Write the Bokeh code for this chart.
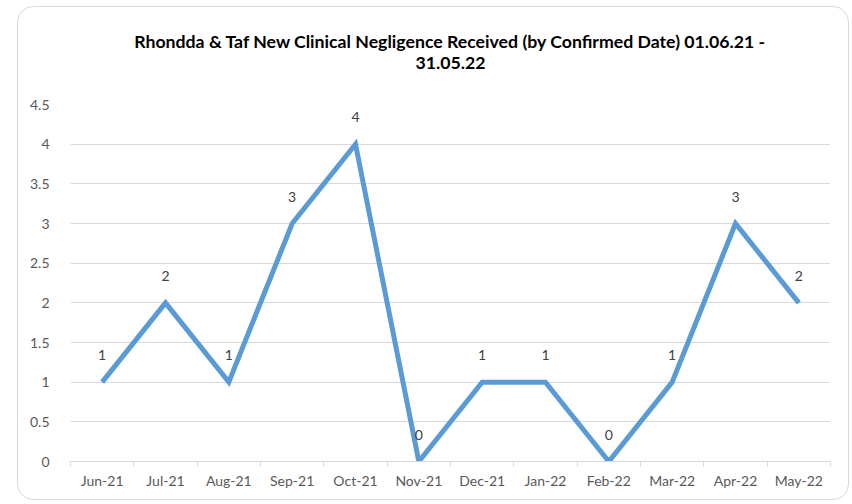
from bokeh.plotting import figure
from bokeh.layouts import column
from bokeh.models import Range1d, FixedTicker, CustomJSTickFormatter, Title, ColumnDataSource
from bokeh.core.properties import value
from bokeh.embed import file_html
from bokeh.resources import INLINE

months = ["Jun-21", "Jul-21", "Aug-21", "Sep-21", "Oct-21", "Nov-21",
          "Dec-21", "Jan-22", "Feb-22", "Mar-22", "Apr-22", "May-22"]
counts = [1, 2, 1, 3, 4, 0, 1, 1, 0, 1, 3, 2]
y_ticks = [0, 0.5, 1, 1.5, 2, 2.5, 3, 3.5, 4, 4.5]
title_line1 = "Rhondda & Taf New Clinical Negligence Received (by Confirmed Date) 01.06.21 -"
title_line2 = "31.05.22"

FONT = "Lato"
xs = [i + 0.5 for i in range(len(months))]
src = ColumnDataSource(dict(x=xs, y=counts, lab=[str(c) for c in counts]))

p = figure(output_backend="svg", toolbar_location=None,
           frame_width=760, frame_height=357,
           min_border_left=52, min_border_right=18, min_border_top=108, min_border_bottom=38,
           x_range=Range1d(0, len(months)), y_range=Range1d(0, 4.5),
           styles={"margin-top": "-11px"})
p.title = None
p.outline_line_color = None
p.border_fill_color = None

p.add_layout(Title(text=title_line1 + "\n" + title_line2, align="center", text_align="center",
                   text_font=FONT, text_font_size="17.7px", text_line_height=1.0,
                   text_font_style="bold", text_color="#000000", standoff=64), "above")

p.line("x", "y", source=src, line_color="#5B9BD5", line_width=5,
       line_join="miter", line_cap="butt")
p.text("x", "y", text="lab", source=src, y_offset=-27, text_align="center",
       text_baseline="middle", text_font=value(FONT), text_font_size="14px",
       text_color="#404040")

# x axis
p.xaxis.ticker = FixedTicker(ticks=xs, minor_ticks=list(range(len(months) + 1)))
p.xaxis.major_label_overrides = {x: m for x, m in zip(xs, months)}
p.xaxis.major_tick_line_color = None
p.xaxis.major_tick_out = 0
p.xaxis.major_tick_in = 0
p.xaxis.minor_tick_line_color = "#d9d9d9"
p.xaxis.minor_tick_out = 5
p.xaxis.minor_tick_in = 0
p.xaxis.axis_line_color = "#d9d9d9"
p.xaxis.major_label_text_font = FONT
p.xaxis.major_label_text_font_size = "14px"
p.xaxis.major_label_text_color = "#595959"
p.xaxis.major_label_standoff = 5

# y axis
p.yaxis.ticker = FixedTicker(ticks=y_ticks)
p.yaxis.formatter = CustomJSTickFormatter(code="return tick.toString();")
p.yaxis.axis_line_color = None
p.yaxis.major_tick_line_color = None
p.yaxis.minor_tick_line_color = None
p.yaxis.major_label_text_font = FONT
p.yaxis.major_label_text_font_size = "14px"
p.yaxis.major_label_text_color = "#595959"
p.yaxis.major_label_standoff = 15

p.xgrid.grid_line_color = None
p.ygrid.grid_line_color = "#d9d9d9"
p.ygrid.grid_line_width = 1.2

layout = column(p, styles={"border": "1px solid #d9d9d9", "border-radius": "16px",
                           "margin-left": "17px", "margin-top": "6px"})

open("out.html", "w").write(file_html(layout, INLINE))
